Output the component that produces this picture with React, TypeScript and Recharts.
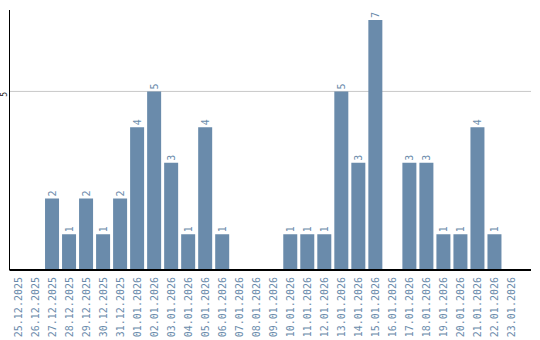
import React from "react";
import { BarChart, Bar, XAxis, YAxis, CartesianGrid, LabelList } from "recharts";

const dates = [
  "25.12.2025", "26.12.2025", "27.12.2025", "28.12.2025", "29.12.2025", "30.12.2025",
  "31.12.2025", "01.01.2026", "02.01.2026", "03.01.2026", "04.01.2026", "05.01.2026",
  "06.01.2026", "07.01.2026", "08.01.2026", "09.01.2026", "10.01.2026", "11.01.2026",
  "12.01.2026", "13.01.2026", "14.01.2026", "15.01.2026", "16.01.2026", "17.01.2026",
  "18.01.2026", "19.01.2026", "20.01.2026", "21.01.2026", "22.01.2026", "23.01.2026",
];
const counts = [0, 0, 2, 1, 2, 1, 2, 4, 5, 3, 1, 4, 1, 0, 0, 0, 1, 1, 1, 5, 3, 7, 0, 3, 3, 1, 1, 4, 1, 0];
const yTicks = [5];
const yMax = 7.28;

const data = dates.map((d, i) => ({ date: d, count: counts[i] }));

const BLUE = "#6a8bab";
const FONT = "'DejaVu Sans Mono', monospace";

const XTick = (props: any) => {
  const { x, y, payload } = props;
  return (
    <text
      x={x}
      y={y}
      transform={`rotate(-90, ${x}, ${y})`}
      textAnchor="end"
      dy="0.35em"
      fill={BLUE}
      fontSize={10}
      fontFamily={FONT}
    >
      {payload.value}
    </text>
  );
};

const YTick = (props: any) => {
  const { y, payload } = props;
  const x = 4.5;
  const yy = y + 3;
  return (
    <text
      x={x}
      y={yy}
      transform={`rotate(-90, ${x}, ${yy})`}
      textAnchor="middle"
      dy="0.35em"
      fill="#222"
      fontSize={8}
      fontFamily={FONT}
    >
      {payload.value}
    </text>
  );
};

const BarLabel = (props: any) => {
  const { x, y, width, value } = props;
  if (!value) return null;
  const cx = x + width / 2;
  const cy = y - 2;
  return (
    <text
      x={cx}
      y={cy}
      transform={`rotate(-90, ${cx}, ${cy})`}
      textAnchor="start"
      dy="0.35em"
      fill={BLUE}
      fontSize={10}
      fontFamily={FONT}
    >
      {value}
    </text>
  );
};

const gridGen = (p: any) => {
  const off = p.offset || {};
  const top = off.top ?? 10;
  const h = off.height ?? 260;
  return yTicks.map((t) => top + h * (1 - t / yMax));
};

export default function App() {
  return (
    <div style={{ position: "absolute", left: 0, top: 0, background: "#fff" }}>
      <BarChart
        width={540}
        height={340}
        data={data}
        margin={{ top: 10, right: 9, bottom: 0, left: 0 }}
        barCategoryGap={1.5}
      >
        <CartesianGrid
          vertical={false}
          stroke="#c8c8c8"
          horizontalCoordinatesGenerator={gridGen}
        />
        <XAxis
          dataKey="date"
          interval={0}
          height={70}
          tickLine={false}
          tickSize={6}
          tickMargin={1}
          tick={<XTick />}
          stroke="#000"
          strokeWidth={2}
          padding={{ left: 0, right: 11 }}
        />
        <YAxis
          width={9.5}
          domain={[0, yMax]}
          ticks={yTicks}
          tickLine={false}
          tick={<YTick />}
          stroke="#000"
          allowDataOverflow
        />
        <Bar dataKey="count" fill={BLUE} isAnimationActive={false}>
          <LabelList dataKey="count" content={<BarLabel />} />
        </Bar>
      </BarChart>
    </div>
  );
}
